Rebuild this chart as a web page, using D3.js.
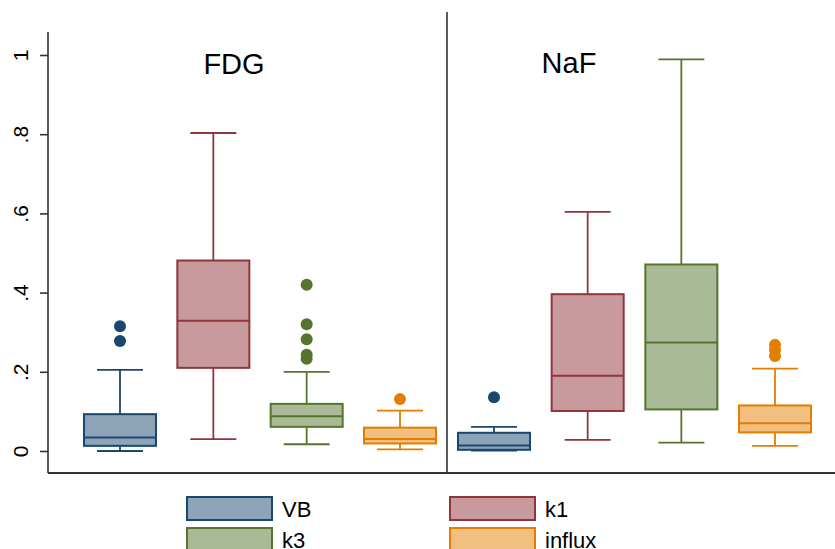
<!DOCTYPE html>
<html><head><meta charset="utf-8">
<script src="https://cdn.jsdelivr.net/npm/d3@7"></script>
<style>html,body{margin:0;padding:0;background:#fff}svg{display:block}</style>
</head><body>
<svg id="chart" width="835" height="549"></svg>
<script>
// ---- data ----
const panels = ["FDG", "NaF"];
const series = ["VB", "k1", "k3", "influx"];
const lowerWhisker  = [[0.000, 0.030, 0.017, 0.004], [0.001, 0.028, 0.021, 0.013]];
const lowerQuartile = [[0.013, 0.210, 0.061, 0.019], [0.003, 0.101, 0.105, 0.047]];
const medians       = [[0.034, 0.329, 0.088, 0.030], [0.014, 0.190, 0.274, 0.070]];
const upperQuartile = [[0.093, 0.481, 0.119, 0.059], [0.046, 0.396, 0.471, 0.115]];
const upperWhisker  = [[0.205, 0.803, 0.200, 0.102], [0.061, 0.604, 0.989, 0.208]];
const outliers = [
  [[0.278, 0.315], [], [0.233, 0.243, 0.282, 0.320, 0.420], [0.131]],
  [[0.136], [], [], [0.240, 0.255, 0.268]]
];
const yTicks = [0, 0.2, 0.4, 0.6, 0.8, 1];
const yTickLabels = ["0", ".2", ".4", ".6", ".8", "1"];

// ---- style / layout ----
const colors = ["#1a476f", "#90353b", "#55752f", "#e37e00"];
const fills = colors.map(c => d3.interpolateRgb(c, "#ffffff")(0.5));
const font = "'Liberation Sans', Arial, Helvetica, sans-serif";
const svg = d3.select("#chart");

const y = d3.scaleLinear().domain([0, 1]).range([451, 55]);
const panelRanges = [[120, 400], [494, 775]];
const titlePos = [[234, 74], [569, 73]];
const boxW = 72, capW = 46;

// axes frame
const axisColor = "#333";
svg.append("line").attr("x1", 48).attr("x2", 835).attr("y1", 473).attr("y2", 473)
  .attr("stroke", axisColor).attr("stroke-width", 2);
svg.append("line").attr("x1", 447).attr("x2", 447).attr("y1", 12).attr("y2", 473)
  .attr("stroke", axisColor).attr("stroke-width", 1.6);

// y axis
const yAxis = d3.axisLeft(y).tickValues(yTicks)
  .tickFormat((d, i) => yTickLabels[i]).tickSize(8).tickSizeOuter(0);
const gy = svg.append("g").attr("transform", "translate(48,0)").call(yAxis);
gy.select(".domain").remove();
gy.append("line").attr("x1", 0).attr("x2", 0).attr("y1", 32).attr("y2", 473)
  .attr("stroke", axisColor).attr("stroke-width", 1.6);
gy.selectAll(".tick line").attr("stroke", axisColor).attr("stroke-width", 1.6);
gy.selectAll(".tick text")
  .attr("x", null).attr("dy", null)
  .attr("text-anchor", "middle")
  .attr("transform", "translate(-20,0) rotate(-90)")
  .style("font-family", font).style("font-size", "21px").attr("fill", "#000");

panels.forEach((p, pi) => {
  const x = d3.scalePoint().domain(series).range(panelRanges[pi]);
  const g = svg.append("g");
  g.append("text").attr("x", titlePos[pi][0]).attr("y", titlePos[pi][1])
    .attr("text-anchor", "middle").style("font-family", font).style("font-size", "29px")
    .attr("fill", "#000").text(p);
  series.forEach((s, si) => {
    const cx = x(s), col = colors[si];
    // whiskers
    g.append("line").attr("x1", cx).attr("x2", cx)
      .attr("y1", y(upperQuartile[pi][si])).attr("y2", y(upperWhisker[pi][si]))
      .attr("stroke", col).attr("stroke-width", 1.8);
    g.append("line").attr("x1", cx).attr("x2", cx)
      .attr("y1", y(lowerQuartile[pi][si])).attr("y2", y(lowerWhisker[pi][si]))
      .attr("stroke", col).attr("stroke-width", 1.8);
    // caps
    [upperWhisker[pi][si], lowerWhisker[pi][si]].forEach(v => {
      g.append("line").attr("x1", cx - capW / 2).attr("x2", cx + capW / 2)
        .attr("y1", y(v)).attr("y2", y(v))
        .attr("stroke", col).attr("stroke-width", 1.8);
    });
    // box
    g.append("rect").attr("x", cx - boxW / 2).attr("width", boxW)
      .attr("y", y(upperQuartile[pi][si]))
      .attr("height", y(lowerQuartile[pi][si]) - y(upperQuartile[pi][si]))
      .attr("fill", fills[si]).attr("stroke", col).attr("stroke-width", 2);
    // median
    g.append("line").attr("x1", cx - boxW / 2).attr("x2", cx + boxW / 2)
      .attr("y1", y(medians[pi][si])).attr("y2", y(medians[pi][si]))
      .attr("stroke", col).attr("stroke-width", 2);
    // outliers
    g.selectAll(null).data(outliers[pi][si]).enter().append("circle")
      .attr("cx", cx).attr("cy", d => y(d)).attr("r", 6).attr("fill", col);
  });
});

// legend
const legendCols = [187, 450];
const legendRows = [497, 528];
series.forEach((s, si) => {
  const lx = legendCols[si % 2], ly = legendRows[Math.floor(si / 2)];
  svg.append("rect").attr("x", lx).attr("y", ly).attr("width", 85).attr("height", 23)
    .attr("fill", fills[si]).attr("stroke", colors[si]).attr("stroke-width", 2);
  svg.append("text").attr("x", lx + 95).attr("y", ly + 20)
    .style("font-family", font).style("font-size", "22px").attr("fill", "#000").text(s);
});
</script>
</body></html>
